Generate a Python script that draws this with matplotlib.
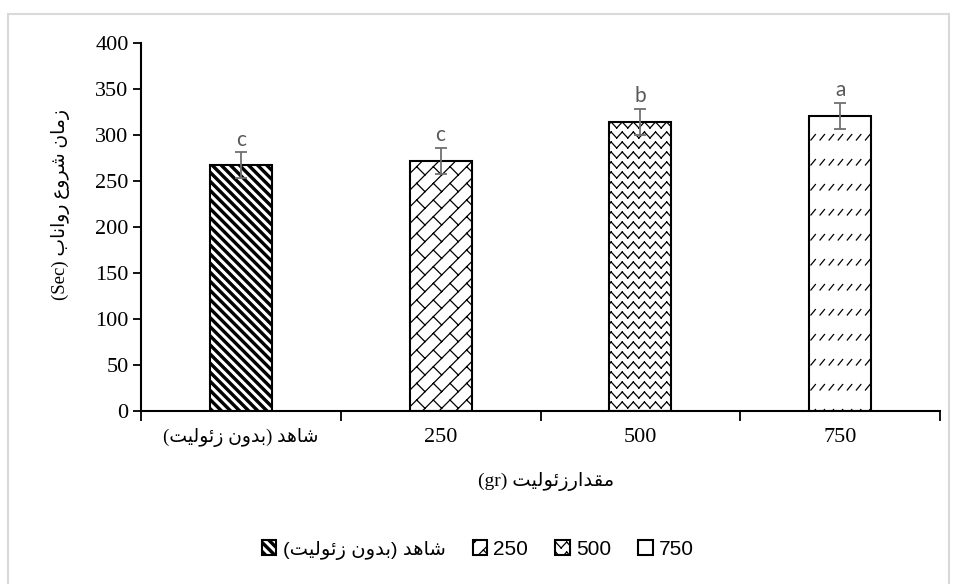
import numpy as np
import matplotlib
matplotlib.use("Agg")
import matplotlib.pyplot as plt
import matplotlib.hatch as mhatch
from matplotlib.path import Path
from matplotlib.patches import Rectangle

# ---------------- data ----------------
categories = ["شاهد (بدون زئولیت)", "250", "500", "750"]
values = [267, 272, 314, 321]
errors = [14, 14, 14, 14]
letters = ["c", "c", "b", "a"]
y_ticks = [0, 50, 100, 150, 200, 250, 300, 350, 400]
y_label_fa = "زمان شروع رواناب"
y_label_unit = "(Sec)"
x_label_fa = "مقدارزئولیت"
x_label_unit = "(gr)"

# ---------------- minimal Arabic/Persian shaping ----------------
FORMS = {
    'ا': ('\uFE8D', '\uFE8E', None, None),
    'ب': ('\uFE8F', '\uFE90', '\uFE91', '\uFE92'),
    'ت': ('\uFE95', '\uFE96', '\uFE97', '\uFE98'),
    'د': ('\uFEA9', '\uFEAA', None, None),
    'ر': ('\uFEAD', '\uFEAE', None, None),
    'ز': ('\uFEAF', '\uFEB0', None, None),
    'ش': ('\uFEB5', '\uFEB6', '\uFEB7', '\uFEB8'),
    'ع': ('\uFEC9', '\uFECA', '\uFECB', '\uFECC'),
    'ق': ('\uFED5', '\uFED6', '\uFED7', '\uFED8'),
    'ل': ('\uFEDD', '\uFEDE', '\uFEDF', '\uFEE0'),
    'م': ('\uFEE1', '\uFEE2', '\uFEE3', '\uFEE4'),
    'ن': ('\uFEE5', '\uFEE6', '\uFEE7', '\uFEE8'),
    'ه': ('\uFEE9', '\uFEEA', '\uFEEB', '\uFEEC'),
    'و': ('\uFEED', '\uFEEE', None, None),
    'ئ': ('\uFE89', '\uFE8A', '\uFE8B', '\uFE8C'),
    'ی': ('\uFBFC', '\uFBFD', '\uFBFE', '\uFBFF'),
}


def shape(text):
    out = []
    n = len(text)
    for i, ch in enumerate(text):
        if ch not in FORMS:
            out.append(ch)
            continue
        iso, fin, ini, med = FORMS[ch]
        prev = text[i - 1] if i > 0 else None
        nxt = text[i + 1] if i < n - 1 else None
        jp = prev in FORMS and FORMS[prev][2] is not None
        jn = (nxt in FORMS) and ini is not None
        if jp and jn:
            f = med
        elif jp:
            f = fin
        elif jn:
            f = ini
        else:
            f = iso
        out.append(f)
    return ''.join(out)


def rtl(text):
    if not any(c in FORMS for c in text):
        return text
    s = shape(text)[::-1]
    return s.translate(str.maketrans('()', ')('))


# ---------------- custom hatches ----------------
mhatch._validate_hatch_pattern = lambda h: None


class SegHatch(mhatch.HatchPatternBase):
    char = None

    def __init__(self, hatch, density):
        self.segs = self.make() if (hatch and self.char in hatch) else []
        self.num_vertices = 2 * len(self.segs)

    def make(self):
        return []

    def set_vertices_and_codes(self, vertices, codes):
        for i, (a, b) in enumerate(self.segs):
            vertices[2 * i] = a
            vertices[2 * i + 1] = b
        codes[0::2] = Path.MOVETO
        codes[1::2] = Path.LINETO


class StripeHatch(mhatch.HatchPatternBase):
    # thick "\" stripes drawn as filled bands
    N = 11
    W = 0.03

    def __init__(self, hatch, density):
        self.on = bool(hatch) and 'n' in hatch
        self.bands = []
        if self.on:
            for k in range(-2, 2 * self.N + 2):
                self.bands.append(k / self.N)
        self.num_vertices = 5 * len(self.bands)

    def set_vertices_and_codes(self, vertices, codes):
        w = self.W
        for i, c in enumerate(self.bands):
            v = [(-1, c + 1), (2, c - 2), (2, c + w - 2), (-1, c + w + 1), (-1, c + 1)]
            vertices[5 * i:5 * i + 5] = v
            codes[5 * i] = Path.MOVETO
            codes[5 * i + 1:5 * i + 4] = Path.LINETO
            codes[5 * i + 4] = Path.CLOSEPOLY


class ZigZagHatch(SegHatch):
    char = 'z'

    def make(self):
        R, P, a = 10, 9, 0.03
        segs = []
        for r in range(R):
            y0 = (r + 0.5) / R
            pts = [(j / (2 * P), y0 + (a if j % 2 == 0 else -a)) for j in range(2 * P + 1)]
            segs += list(zip(pts[:-1], pts[1:]))
        return segs


class DashHatch(SegHatch):
    char = 'q'

    def make(self):
        R, D = 4, 11
        segs = []
        for r in range(R):
            y0 = (r + 0.5) / R
            for d in range(D):
                x0 = (d + 0.2) / D
                segs.append(((x0, y0 - 0.025), (x0 + 0.045, y0 + 0.03)))
        return segs


class BrickHatch(SegHatch):
    char = 'k'

    def make(self):
        n, m = 6, 3
        segs = []
        for k in range(-n, n + 1):
            c = k / n
            segs.append(((-0.2, -0.2 - c), (1.2, 1.2 - c)))
        for k in range(-2 * n, 2 * n):
            for j in range(-2 * m, 4 * m):
                t = j / m + (k % 2) * 0.5 / m
                p1 = ((t + k / n) / 2, (t - k / n) / 2)
                p2 = ((t + (k + 1) / n) / 2, (t - (k + 1) / n) / 2)
                if all(-0.3 <= v <= 1.3 for v in (*p1, *p2)):
                    segs.append((p1, p2))
        return segs


mhatch._hatch_types.extend([StripeHatch, ZigZagHatch, DashHatch, BrickHatch])
plt.rcParams['hatch.linewidth'] = 0.9
plt.rcParams['hatch.color'] = 'black'

# ---------------- figure ----------------
fig = plt.figure(figsize=(9.57, 5.84), dpi=100)
ax = fig.add_axes([141 / 957, 1 - 411 / 584, (940 - 141) / 957, (411 - 43) / 584])

serif = ['Liberation Serif', 'DejaVu Sans']
sans = ['Liberation Sans', 'DejaVu Sans']

hatches = ['n', 'k', 'z', 'q']
x = np.arange(len(categories))
bars = ax.bar(x, values, width=0.31, color='white', edgecolor='black',
              linewidth=1.5, zorder=2)
for b, h in zip(bars, hatches):
    b.set_hatch(h)

ax.errorbar(x, values, yerr=errors, fmt='none', ecolor='#6f6f6f',
            elinewidth=1.3, capsize=4.5, capthick=1.3, zorder=3)

for xi, v, e, lt in zip(x, values, errors, letters):
    ax.annotate(lt, (xi, v + e), xytext=(0, 2), textcoords='offset points',
                ha='center', va='bottom', fontsize=15, color='#595959',
                family=['Lato', 'DejaVu Sans'])

ax.set_xlim(-0.5, len(categories) - 0.5)
ax.set_ylim(0, 400)
ax.set_yticks(y_ticks)
ax.set_yticklabels([str(t) for t in y_ticks], family=serif, fontsize=16)
ax.set_xticks(x)
xt = ax.set_xticklabels([rtl(c) for c in categories], family=serif, fontsize=16)
for t, c in zip(xt, categories):
    if any(ch in FORMS for ch in c):
        t.set_fontsize(13.5)
ax.set_xticks(np.arange(-0.5, len(categories), 1.0), minor=True)
ax.tick_params(axis='x', which='major', length=0, pad=12)
ax.tick_params(axis='x', which='minor', length=7, width=1.3, direction='out')
ax.tick_params(axis='y', length=6, width=1.3, direction='out', pad=3)

for s in ['top', 'right']:
    ax.spines[s].set_visible(False)
for s in ['left', 'bottom']:
    ax.spines[s].set_linewidth(1.5)

ax.set_ylabel(y_label_unit + ' ' + rtl(y_label_fa), family=serif, fontsize=13.5)
ax.yaxis.set_label_coords(-0.089, 0.56)
ax.set_xlabel(x_label_unit + ' ' + rtl(x_label_fa), family=serif, fontsize=14)
ax.xaxis.set_label_coords(0.507, -0.165)

leg = fig.legend(bars, [rtl(c) for c in categories], loc='center',
                 bbox_to_anchor=(478 / 957, 1 - 550 / 584), ncol=4, frameon=False,
                 handlelength=0.7, handleheight=0.7, handletextpad=0.3,
                 columnspacing=1.3, prop={'family': sans, 'size': 15})
for t, c in zip(leg.get_texts(), categories):
    if any(ch in FORMS for ch in c):
        t.set_fontsize(14)

fig.add_artist(Rectangle((8 / 957, -0.05), (949 - 8) / 957, 1 - 14 / 584 + 0.05,
                         transform=fig.transFigure, fill=False,
                         edgecolor='#d9d9d9', linewidth=1.5))

fig.savefig('out.png', dpi=100)
